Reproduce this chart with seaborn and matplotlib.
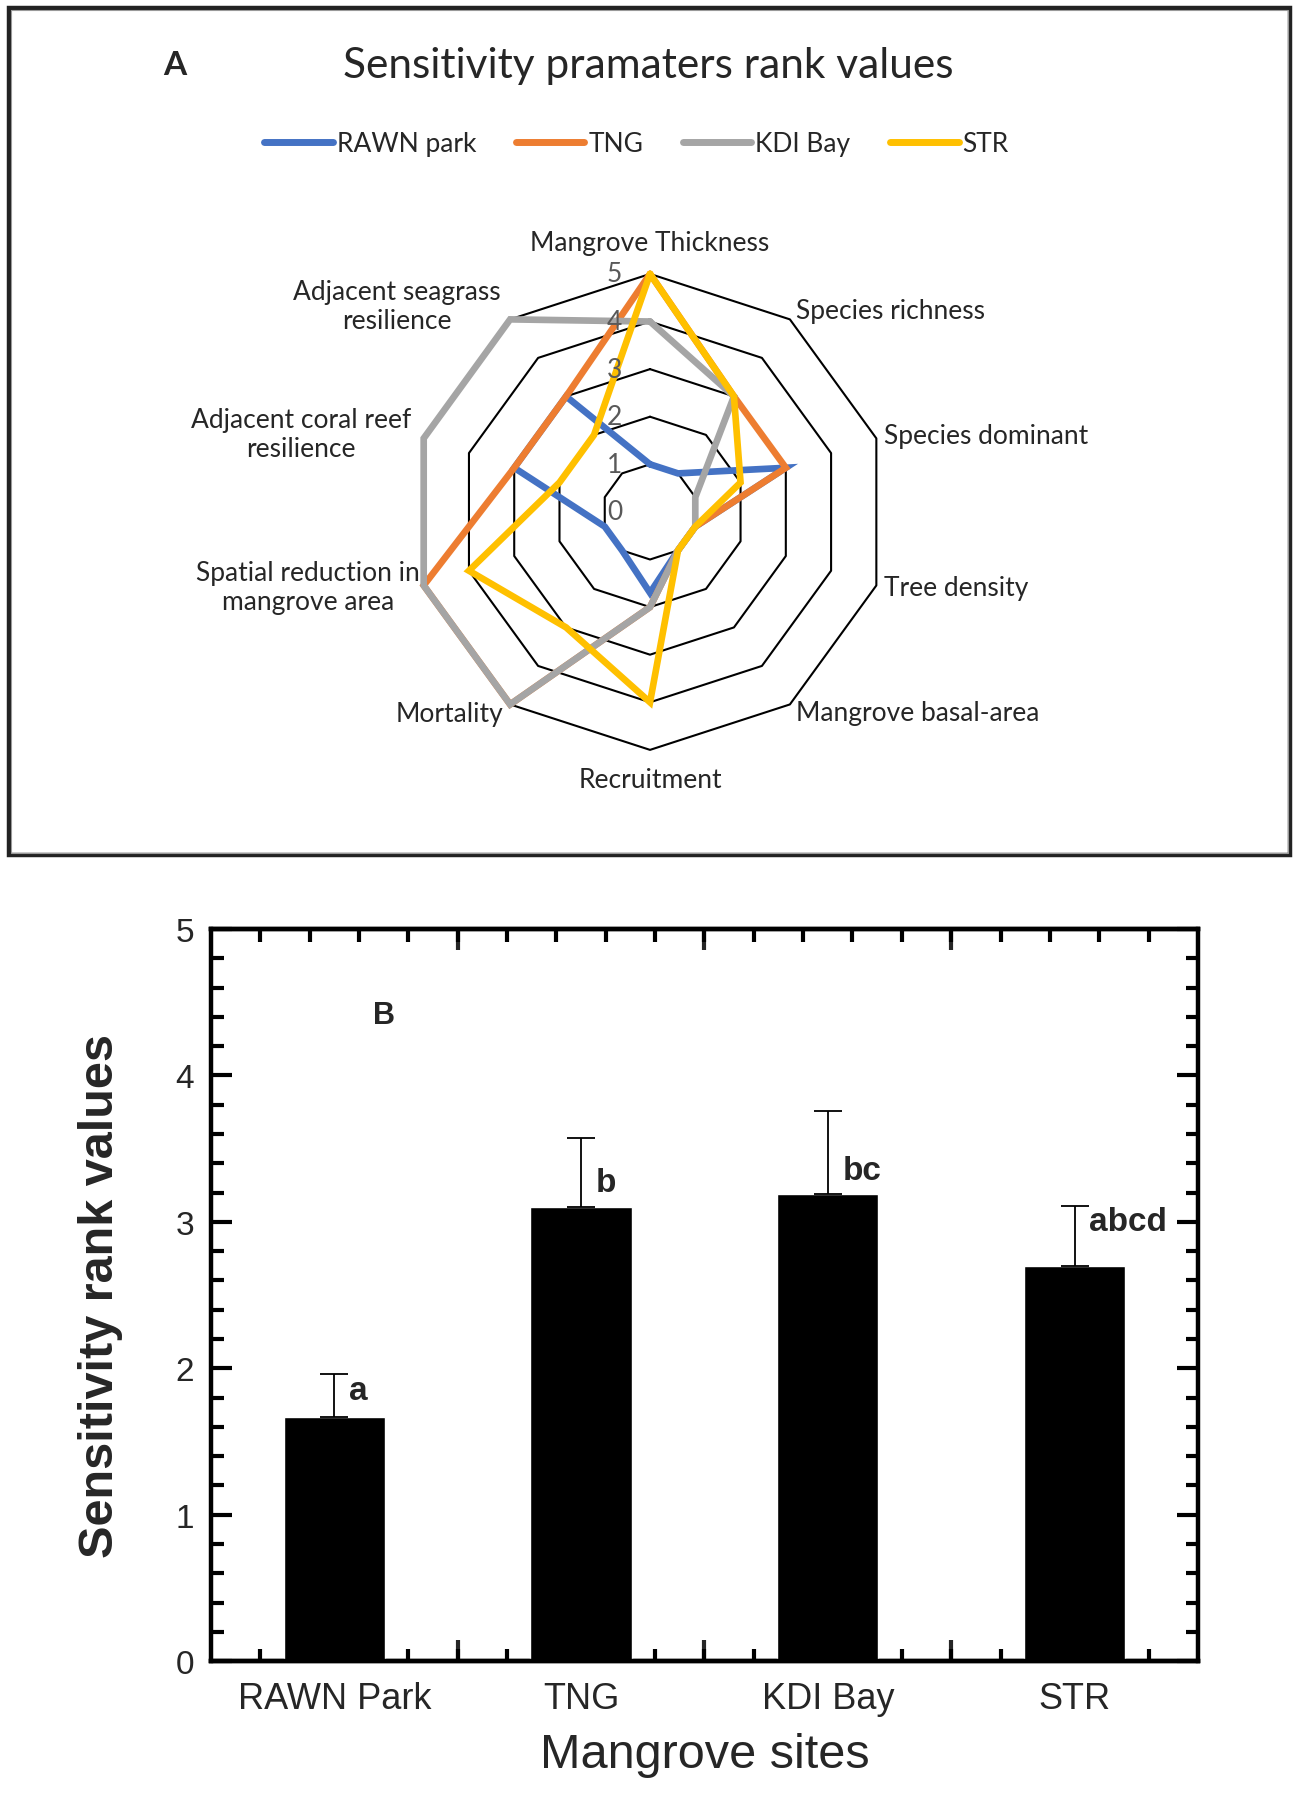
import numpy as np
import pandas as pd
import matplotlib
matplotlib.use("Agg")
import matplotlib.pyplot as plt
from matplotlib.patches import Rectangle
from matplotlib.ticker import MultipleLocator, FixedLocator
import seaborn as sns

# --- panel A data: radar of sensitivity parameter ranks ---
parameters = ['Mangrove Thickness', 'Species richness', 'Species dominant', 'Tree density',
              'Mangrove basal-area', 'Recruitment', 'Mortality',
              'Spatial reduction in\nmangrove area', 'Adjacent coral reef\nresilience',
              'Adjacent seagrass\nresilience']
radar_sites = ['RAWN park', 'TNG', 'KDI Bay', 'STR']
rawn_ranks = [1, 1, 3, 1, 1, 1.7, 1, 1, 3, 3]
tng_ranks = [5, 3, 3, 1, 1, 2, 5, 5, 3, 3]
kdi_ranks = [4, 3, 1, 1, 1, 2, 5, 5, 5, 5]
str_ranks = [5, 3, 2, 1, 1, 4, 3, 4, 2, 2]
ring_levels = [1, 2, 3, 4, 5]
radial_labels = [0, 1, 2, 3, 4, 5]

# --- panel B data: mean sensitivity rank per site ---
sites = ['RAWN Park', 'TNG', 'KDI Bay', 'STR']
mean_rank = [1.67, 3.10, 3.19, 2.70]
sd_rank = [0.29, 0.47, 0.57, 0.41]
letters = ['a', 'b', 'bc', 'abcd']
letter_y = [1.85, 3.27, 3.35, 3.00]

colors = ['#4472C4', '#ED7D31', '#A5A5A5', '#FFC000']

sns.set_style('ticks')
plt.rcParams['font.family'] = ['Liberation Sans', 'DejaVu Sans']

fig = plt.figure(figsize=(12.99, 18.06), dpi=100)

# frame around panel A
fig.patches.append(Rectangle((0.0069, 0.526), 0.986, 0.469, transform=fig.transFigure,
                             fill=False, edgecolor='#222222', linewidth=3.2))
fig.patches.append(Rectangle((0.0085, 0.5272), 0.9828, 0.4666, transform=fig.transFigure,
                             fill=False, edgecolor='#9a9a9a', linewidth=0.8))

fig.text(0.1347, 0.9635, 'A', family='Lato', fontweight='bold', fontsize=24,
         ha='center', va='center')
fig.text(0.499, 0.9635, 'Sensitivity pramaters rank values', family='Lato', fontsize=30.5,
         ha='center', va='center')

# radar in a polar axes
n = len(parameters)
theta = np.linspace(0, 2 * np.pi, n, endpoint=False)
theta_closed = np.append(theta, 2 * np.pi)

rows = []
for site, ranks in zip(radar_sites, [rawn_ranks, tng_ranks, kdi_ranks, str_ranks]):
    vals = list(ranks) + [ranks[0]]
    for t, v in zip(theta_closed, vals):
        rows.append({'theta': t, 'rank': v, 'site': site})
radar_df = pd.DataFrame(rows)

axr = fig.add_axes([0.3172, 0.5842, 0.3664, 0.2636], projection='polar')
axr.set_theta_zero_location('N')
axr.set_theta_direction(-1)
axr.set_facecolor('none')

for r in ring_levels:
    axr.plot(theta_closed, [r] * (n + 1), color='black', lw=1.5, zorder=1, clip_on=False)
n_rings = len(axr.get_lines())

sns.lineplot(data=radar_df, x='theta', y='rank', hue='site', hue_order=radar_sites,
             palette=colors, sort=False, estimator=None, ax=axr, zorder=3)
for line in axr.get_lines()[n_rings:]:
    line.set_clip_on(False)
    line.set_linewidth(4.8)
    line.set_solid_joinstyle('miter')

handles, labels = axr.get_legend_handles_labels()
axr.get_legend().remove()
axr.set_ylim(0, 5)
axr.set_xticks([])
axr.set_yticks([])
axr.grid(False)
axr.spines['polar'].set_visible(False)
axr.set_xlabel('')
axr.set_ylabel('')

for v in radial_labels:
    axr.annotate(str(v), xy=(0, v), xytext=(-20, 0), textcoords='offset points',
                 ha='right', va='center', color='#595959', fontsize=19, family='Lato',
                 annotation_clip=False)

label_r = [5.65, 5.22, 5.17, 5.17, 5.21, 5.63, 5.23, 5.08, 5.27, 5.35]
label_ha = ['center', 'left', 'left', 'left', 'left', 'center', 'right', 'right', 'right', 'right']
for t, name, r, ha in zip(theta, parameters, label_r, label_ha):
    axr.text(t, r, name, ha=ha, va='center', multialignment='center',
             fontsize=19, family='Lato', clip_on=False)

for h in handles:
    h.set_linewidth(5)
fig.legend(handles, labels, loc='center', bbox_to_anchor=(0.49, 0.920), ncol=4,
           frameon=False, prop={'family': 'Lato', 'size': 19}, handlelength=2.6,
           handletextpad=0.15, columnspacing=1.5)

# --- panel B: bar chart ---
axb = fig.add_axes([0.1624, 0.0797, 0.7598, 0.4053])
bar_df = pd.DataFrame({'site': sites, 'mean': mean_rank, 'sd': sd_rank})
sns.barplot(data=bar_df, x='site', y='mean', color='black', saturation=1, width=0.41,
            errorbar=None, ax=axb, zorder=2)
axb.errorbar(range(len(sites)), mean_rank, yerr=[np.zeros(len(sites)), sd_rank],
             fmt='none', ecolor='black', elinewidth=1.3, capsize=10, capthick=1.3, zorder=3)

for i, (lab, y) in enumerate(zip(letters, letter_y)):
    axb.text(i + 0.06, y, lab, ha='left', va='center', fontsize=24, fontweight='bold')
axb.text(0.20, 4.41, 'B', ha='center', va='center', fontsize=22, fontweight='bold')

axb.set_xlim(-0.5, len(sites) - 0.5)
axb.set_ylim(0, 5)
axb.yaxis.set_major_locator(MultipleLocator(1))
axb.yaxis.set_minor_locator(MultipleLocator(0.2))
axb.xaxis.set_minor_locator(FixedLocator(np.arange(-0.3, 3.4, 0.2)))
for side in ['left', 'right', 'top', 'bottom']:
    axb.spines[side].set_visible(True)
    axb.spines[side].set_linewidth(3.2)
    axb.spines[side].set_color('black')

axb.tick_params(axis='both', which='major', direction='in', length=15, width=3,
                top=True, right=True, color='black')
axb.tick_params(axis='both', which='minor', direction='in', length=9, width=3,
                top=True, right=True, color='black')
axb.tick_params(axis='y', which='major', labelsize=24, pad=12)
axb.tick_params(axis='x', which='major', length=0, labelsize=26, pad=14)

for loc in ['top', 'bottom']:
    sec = axb.secondary_xaxis(loc)
    sec.set_xticks([0.5, 1.5, 2.5])
    sec.tick_params(direction='in', length=15, width=3, labelbottom=False, labeltop=False)
    sec.spines[loc].set_linewidth(3.2)

axb.set_ylabel('Sensitivity rank values', fontsize=35, fontweight='bold', labelpad=38)
axb.set_xlabel('Mangrove sites', fontsize=35, labelpad=12)

fig.savefig('out.png', dpi=100, facecolor='white')
